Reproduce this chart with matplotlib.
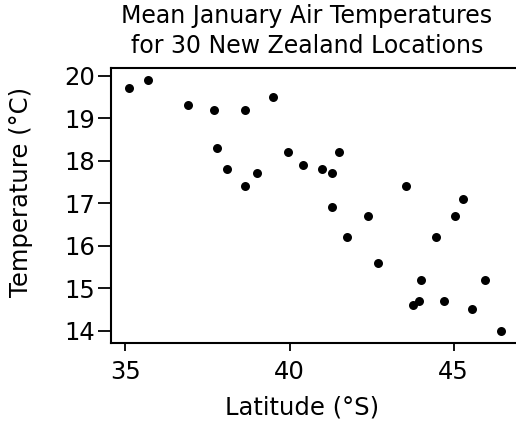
import matplotlib
matplotlib.use("Agg")
import matplotlib.pyplot as plt

latitude = [35.1, 35.7, 36.9, 37.7, 38.65, 39.5, 37.8, 38.1, 38.65, 39.0,
            39.95, 40.4, 41.0, 41.3, 41.5, 41.3, 42.4, 41.75, 42.7, 43.55,
            45.3, 45.05, 44.45, 44.0, 45.95, 43.75, 43.95, 44.7, 45.55, 46.45]
temperature = [19.7, 19.9, 19.3, 19.2, 19.2, 19.5, 18.3, 17.8, 17.4, 17.7,
               18.2, 17.9, 17.8, 17.7, 18.2, 16.9, 16.7, 16.2, 15.6, 17.4,
               17.1, 16.7, 16.2, 15.2, 15.2, 14.6, 14.7, 14.7, 14.5, 14.0]
xticks = [35, 40, 45]
yticks = [14, 15, 16, 17, 18, 19, 20]

W, H = 516, 423
plt.rcParams['font.family'] = ['DejaVu Sans']
fig = plt.figure(figsize=(W/100, H/100), dpi=100)
ax = fig.add_axes([111/W, 1-343/H, 1-111/W, (343-68.3)/H])
ax.scatter(latitude, temperature, s=42, color='black', zorder=3, linewidths=0)
ax.set_xlim(34.56, 46.9)
ax.set_ylim(13.71, 20.17)
ax.set_xticks(xticks)
ax.set_yticks(yticks)
ax.tick_params(axis='x', labelsize=17.5, width=1.3, length=6, pad=6, color='black')
ax.tick_params(axis='y', labelsize=17.5, width=1.3, length=9.5, pad=2, color='black')
ax.spines['right'].set_visible(False)
for s in ['left', 'bottom', 'top']:
    ax.spines[s].set_linewidth(1.5)

fig.text(302.5/W, 1-407/H, 'Latitude (°S)', fontsize=17.5, ha='center', va='center')
fig.text(21.5/W, 1-192/H, 'Temperature (°C)', fontsize=17.5, rotation=90,
         ha='center', va='center')
fig.text(307/W, 1-23.3/H, 'Mean January Air Temperatures', fontsize=17,
         ha='center', va='baseline')
fig.text(307/W, 1-53.3/H, 'for 30 New Zealand Locations', fontsize=17,
         ha='center', va='baseline')
fig.savefig('out.png', dpi=100)
